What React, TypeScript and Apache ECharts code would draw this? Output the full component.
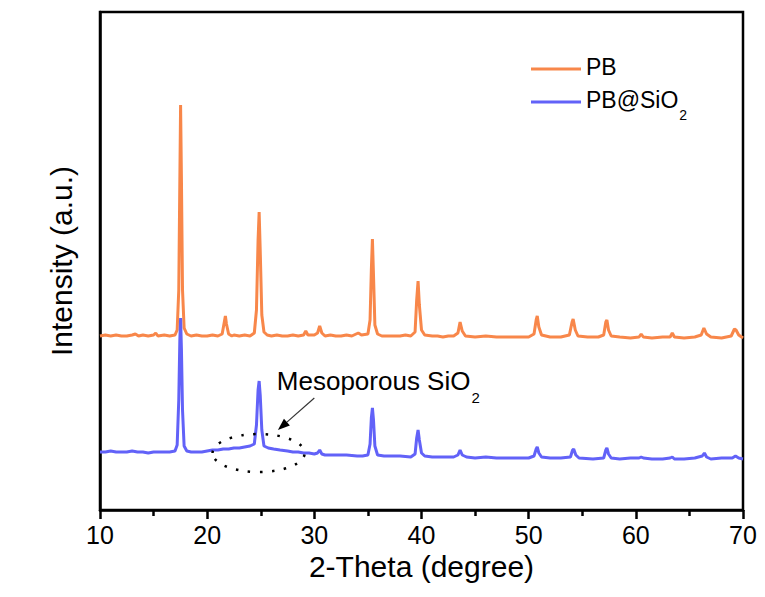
import React, { useEffect, useRef } from "react";
import * as echarts from "echarts";

const FONT = "'Liberation Sans', Arial, Helvetica, sans-serif";
const ORANGE = "#F8874A";
const BLUE = "#6262F8";

const xTicks = [10, 20, 30, 40, 50, 60, 70];
const seriesNames = ["PB", "PB@SiO2"];

// PB pattern: [2θ, intensity (a.u.)]
const pbData: [number, number][] = [
  [10, 174], [10.5, 175], [11, 174], [11.5, 175], [12, 174], [12.5, 174], [13, 175], [13.3, 176], [13.6, 174],
  [14, 175], [14.5, 174], [15, 175], [15.2, 177], [15.4, 174], [16, 175], [16.5, 174], [17, 175],
  [17.2, 180], [17.35, 220], [17.45, 330], [17.52, 405], [17.6, 330], [17.7, 220], [17.85, 182], [18.1, 176],
  [18.5, 174], [19, 175], [19.5, 174], [20, 174], [20.5, 175], [21, 174], [21.4, 176], [21.6, 188], [21.7, 194],
  [21.8, 186], [22, 176], [22.3, 174], [22.5, 175], [23, 174], [23.5, 175], [24, 174], [24.4, 177], [24.6, 200],
  [24.75, 270], [24.85, 298], [24.95, 260], [25.1, 195], [25.3, 178], [25.6, 175], [26, 174], [26.5, 175],
  [27, 174], [27.5, 174], [28, 175], [28.5, 174], [29, 175], [29.2, 179], [29.4, 175], [30, 175], [30.3, 177],
  [30.5, 184], [30.7, 177], [31, 174], [31.5, 175], [32, 174], [32.5, 174], [33, 175], [33.5, 174], [33.9, 176],
  [34.1, 177], [34.4, 175], [35, 176], [35.2, 190], [35.32, 240], [35.42, 271], [35.52, 235], [35.65, 185],
  [35.9, 176], [36.3, 174], [37, 174], [37.5, 174], [38, 174], [38.5, 175], [39, 174], [39.4, 178], [39.55, 210],
  [39.68, 229], [39.8, 205], [40, 180], [40.3, 175], [41, 174], [41.5, 174], [42, 173], [42.5, 174], [43, 174],
  [43.4, 177], [43.6, 188], [43.8, 179], [44.1, 174], [45, 173], [46, 174], [47, 173], [48, 173], [49, 173],
  [50, 173], [50.5, 176], [50.7, 190], [50.8, 194], [50.95, 183], [51.2, 175], [52, 173], [53, 173], [53.8, 175],
  [54.05, 188], [54.15, 191], [54.35, 180], [54.6, 174], [55.5, 173], [56.5, 173], [57, 175], [57.2, 188],
  [57.3, 190], [57.45, 180], [57.7, 174], [58.5, 173], [59.5, 172], [60.3, 173], [60.5, 176], [60.7, 173],
  [61.5, 172], [62.5, 173], [63.2, 173], [63.4, 177], [63.6, 173], [64.5, 172], [65.5, 173], [66.1, 175],
  [66.35, 182], [66.6, 176], [67, 173], [68, 172], [68.9, 174], [69.2, 181], [69.35, 180], [69.6, 175], [70, 172],
];

// PB@SiO2 pattern: [2θ, intensity (a.u.)]
const pbSiO2Data: [number, number][] = [
  [10, 58], [10.5, 58], [11, 59], [11.5, 58], [12, 58], [12.5, 58], [13, 59], [13.5, 58], [14, 58], [14.5, 57],
  [15, 58], [15.5, 58], [16, 58], [16.5, 58], [17, 59], [17.2, 65], [17.35, 110], [17.45, 170], [17.52, 192],
  [17.6, 160], [17.7, 100], [17.85, 64], [18.1, 59], [18.5, 58], [19, 58], [19.5, 58], [20, 59], [20.5, 60],
  [21, 60], [21.5, 61], [22, 61], [22.5, 62], [23, 62], [23.5, 63], [24, 64], [24.4, 66], [24.6, 85], [24.75, 120],
  [24.85, 129], [24.95, 115], [25.1, 80], [25.3, 64], [25.7, 62], [26.2, 61], [26.8, 60], [27.5, 59], [28, 58],
  [28.5, 58], [29, 57], [29.5, 57], [30, 56], [30.3, 57], [30.5, 60], [30.7, 56], [31, 55], [32, 55], [33, 55],
  [34, 54], [34.5, 54], [35, 55], [35.2, 66], [35.32, 92], [35.42, 102], [35.52, 90], [35.65, 64], [35.9, 55],
  [36.5, 54], [37, 54], [38, 54], [39, 53], [39.4, 56], [39.55, 72], [39.68, 80], [39.8, 70], [40, 57], [40.3, 54],
  [41, 53], [42, 53], [43, 53], [43.4, 55], [43.6, 60], [43.8, 55], [44.2, 53], [45, 52], [46, 53], [47, 52],
  [48, 52], [49, 52], [50, 52], [50.5, 54], [50.7, 61], [50.8, 63], [50.95, 57], [51.2, 53], [52, 52], [53, 52],
  [53.9, 53], [54.1, 60], [54.2, 61], [54.4, 55], [54.7, 52], [56, 51], [57, 52], [57.2, 60], [57.3, 62],
  [57.45, 56], [57.7, 52], [58.5, 51], [59.5, 52], [60.3, 52], [60.5, 53], [60.7, 52], [61.5, 51], [62.5, 51],
  [63.2, 52], [63.4, 53], [63.6, 51], [64.5, 51], [65.5, 52], [66.2, 54], [66.4, 57], [66.6, 53], [67, 51],
  [68, 52], [69, 52], [69.3, 54], [69.6, 52], [70, 51],
];

// annotation anchors in data coordinates
const annoTextAt: [number, number] = [26.5, 127];
const arrowFrom: [number, number] = [30.0, 112];
const arrowTo: [number, number] = [26.6, 80];
const ellipseCenter: [number, number] = [24.8, 57];
const ellipseRadius: [number, number] = [4.3, 19];

export default function App() {
  const ref = useRef<HTMLDivElement>(null);
  useEffect(() => {
    if (!ref.current) return;
    const chart = echarts.init(ref.current, null, { renderer: "svg" });
    const legendRich = {
      a: { fontSize: 23, fontFamily: FONT, color: "#000", lineHeight: 28, verticalAlign: "top" },
      b: { fontSize: 14, fontFamily: FONT, color: "#000", lineHeight: 14, padding: [20, 0, 0, 1], verticalAlign: "top" },
    };
    chart.setOption({
      animation: false,
      backgroundColor: "#fff",
      grid: { left: 100, right: 22, top: 12, bottom: 87, show: true, borderColor: "#000", borderWidth: 2.5, backgroundColor: "transparent" },
      legend: {
        data: seriesNames,
        orient: "vertical",
        left: 531,
        top: 55,
        padding: 0,
        itemWidth: 50,
        itemHeight: 3,
        itemGap: 10,
        icon: "rect",
        formatter: (n: string) => (n === "PB@SiO2" ? "{a|PB@SiO}{b|2}" : "{a|PB}"),
        textStyle: { rich: legendRich },
      },
      xAxis: {
        type: "value",
        min: xTicks[0],
        max: xTicks[xTicks.length - 1],
        interval: 10,
        name: "2-Theta (degree)",
        nameLocation: "middle",
        nameGap: 40,
        nameTextStyle: { fontSize: 30, fontFamily: FONT, color: "#000" },
        axisLine: { show: true, onZero: false, lineStyle: { color: "#000", width: 2.5 } },
        axisTick: { show: true, inside: false, length: 9, lineStyle: { color: "#000", width: 2.5 } },
        minorTick: { show: true, splitNumber: 2, length: 6, lineStyle: { color: "#000", width: 2.5 } },
        axisLabel: { fontSize: 25, fontFamily: FONT, color: "#000", margin: 12 },
        splitLine: { show: false },
      },
      yAxis: {
        type: "value",
        min: 0,
        max: 498,
        name: "Intensity (a.u.)",
        nameLocation: "middle",
        nameRotate: 90,
        nameGap: 24,
        nameTextStyle: { fontSize: 30, fontFamily: FONT, color: "#000" },
        axisLine: { show: true, lineStyle: { color: "#000", width: 2.5 } },
        axisTick: { show: false },
        axisLabel: { show: false },
        splitLine: { show: false },
      },
      series: [
        { name: seriesNames[0], type: "line", data: pbData, showSymbol: false, symbol: "none", lineStyle: { color: ORANGE, width: 3 }, itemStyle: { color: ORANGE }, z: 2 },
        { name: seriesNames[1], type: "line", data: pbSiO2Data, showSymbol: false, symbol: "none", lineStyle: { color: BLUE, width: 3 }, itemStyle: { color: BLUE }, z: 3 },
      ],
    });

    const p = (v: [number, number]) => chart.convertToPixel({ gridIndex: 0 }, v) as number[];
    const t = p(annoTextAt);
    const a0 = p(arrowFrom);
    const a1 = p(arrowTo);
    const c = p(ellipseCenter);
    const e = p([ellipseCenter[0] + ellipseRadius[0], ellipseCenter[1] + ellipseRadius[1]]);
    const rx = Math.abs(e[0] - c[0]);
    const ry = Math.abs(e[1] - c[1]);
    const ang = Math.atan2(a1[1] - a0[1], a1[0] - a0[0]);
    const hl = 12, hw = 4.5;
    const bx = a1[0] - hl * Math.cos(ang), by = a1[1] - hl * Math.sin(ang);
    const nx = -Math.sin(ang), ny = Math.cos(ang);
    chart.setOption({
      graphic: [
        {
          type: "ellipse", shape: { cx: c[0], cy: c[1], rx, ry }, z: 10,
          style: { fill: "none", stroke: "#000", lineWidth: 2.5, lineDash: [2.5, 9.5] },
        },
        { type: "line", shape: { x1: a0[0], y1: a0[1], x2: bx, y2: by }, z: 10, style: { stroke: "#333", lineWidth: 1.2 } },
        {
          type: "polygon", z: 10,
          shape: { points: [[a1[0], a1[1]], [bx + nx * hw, by + ny * hw], [bx - nx * hw, by - ny * hw]] },
          style: { fill: "#000" },
        },
        {
          type: "text", x: t[0], y: t[1], z: 10,
          style: {
            text: "{a|Mesoporous SiO}{b|2}",
            textAlign: "left",
            textVerticalAlign: "middle",
            rich: {
              a: { fontSize: 26, fontFamily: FONT, fill: "#000", lineHeight: 30, verticalAlign: "top" },
              b: { fontSize: 15, fontFamily: FONT, fill: "#000", lineHeight: 15, padding: [22, 0, 0, 1], verticalAlign: "top" },
            },
          },
        },
      ],
    });
    return () => chart.dispose();
  }, []);
  return <div ref={ref} style={{ width: 765, height: 597, position: "absolute", left: 0, top: 0 }} />;
}
